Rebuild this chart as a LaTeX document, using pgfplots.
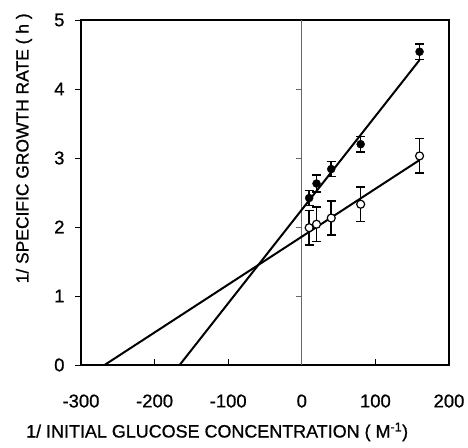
\documentclass[border=0pt]{standalone}
\usepackage{fontspec}
\setmainfont{Liberation Sans}[UprightFeatures={FakeBold=0.8}]
\usepackage{pgfplots}
\pgfplotsset{compat=1.18}

\begin{document}
\begin{tikzpicture}
\begin{axis}[
    scale only axis,
    width=368bp, height=345bp,
    xmin=-300, xmax=200, ymin=0, ymax=5,
    xtick={-300,-200,...,200}, ytick={0,1,...,5},
    axis line style={line width=1.7pt},
    tick style={black, line width=0.9pt},
    major tick length=6bp,
    xtick align=inside, ytick align=outside,
    xtick pos=bottom, ytick pos=left,
    tick label style={font=\fontsize{18.5}{22}\selectfont},
    xticklabel style={yshift=-26bp},
    yticklabel style={xshift=-7bp},
    xlabel style={font=\fontsize{18}{22}\selectfont,
        at={(axis description cs:0.37,-0.194)}, anchor=center},
    ylabel style={font=\fontsize{17.5}{21}\selectfont,
        at={(axis description cs:-0.155,0.628)}, anchor=center},
    /pgf/number format/assume math mode=true,
    xlabel={1/ INITIAL GLUCOSE CONCENTRATION ( M\textsuperscript{-1})},
    ylabel={1/ SPECIFIC GROWTH RATE ( h )},
    clip=false,
]
% zero line with its ticks
\draw[gray!80!black, line width=0.9pt] (axis cs:0,0) -- (axis cs:0,5);
\pgfplotsinvokeforeach{1,2,3,4}{
  \draw[gray!80!black, line width=0.9pt] (axis cs:-8,#1) -- (axis cs:0,#1);
}

% fitted lines
\addplot[black, line width=2pt] coordinates {(-166,0) (160,4.42)};
\addplot[black, line width=2pt] coordinates {(-268,0) (160,2.97)};

% filled circles
\addplot[black, only marks, mark=*, mark size=4bp,
    error bars/.cd, y dir=both, y explicit,
    error bar style={line width=1.6pt},
    error mark options={rotate=90, mark size=4.5bp, line width=1.6pt}]
  coordinates {
    (10,2.42) +- (0,0.11)
    (20,2.63) +- (0,0.12)
    (40,2.84) +- (0,0.11)
    (80,3.20) +- (0,0.11)
    (160,4.54) +- (0,0.11)
  };

% open circles
\addplot[black, only marks, mark=*, mark size=4bp,
    mark options={fill=white, line width=1.2pt},
    error bars/.cd, y dir=both, y explicit,
    error bar style={line width=1.6pt},
    error mark options={rotate=90, mark size=4.5bp, line width=1.6pt}]
  coordinates {
    (10,1.99) +- (0,0.25)
    (20,2.04) +- (0,0.25)
    (40,2.13) +- (0,0.25)
    (80,2.33) +- (0,0.25)
    (160,3.03) +- (0,0.25)
  };
\end{axis}
\pgfresetboundingbox
\path[use as bounding box] ([xshift=-81bp,yshift=-83bp]current axis.south west)
    rectangle ([xshift=19bp,yshift=20bp]current axis.north east);
\end{tikzpicture}
\end{document}
